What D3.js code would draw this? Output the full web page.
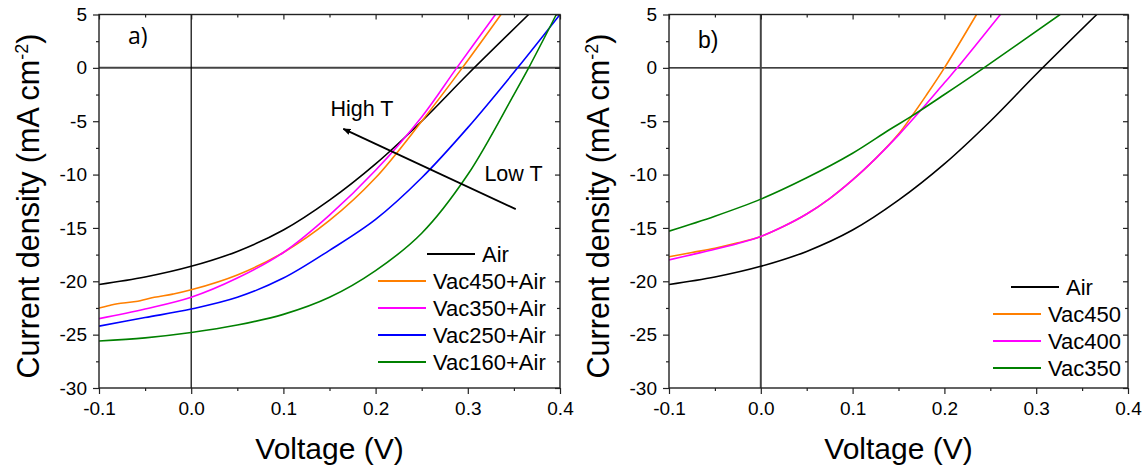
<!DOCTYPE html>
<html>
<head>
<meta charset="utf-8">
<script src="https://cdn.jsdelivr.net/npm/d3@7"></script>
<style>
  body { margin: 0; background: #fff; }
  svg { display: block; }
  text { font-family: "Liberation Sans", Arial, sans-serif; fill: #000; }
</style>
</head>
<body>
<script>
// J-V curves, [voltage (V), current density (mA cm-2)]
const airCurve = [[-0.1, -20.3], [-0.05, -19.6], [0, -18.6], [0.05, -17.2], [0.1, -15.2], [0.15, -12.4],
  [0.2, -9.0], [0.25, -5.0], [0.3, -0.6], [0.366, 5]];
const vac450AirCurve = [[-0.1, -22.5], [-0.09, -22.3], [-0.08, -22.1], [-0.06, -21.9], [-0.04, -21.5], [-0.02, -21.2],
  [0, -20.8], [0.05, -19.4], [0.1, -17.3], [0.15, -14.3], [0.2, -10.3], [0.25, -5.0], [0.294, 0], [0.336, 5]];
const vac350AirCurve = [[-0.1, -23.5], [-0.05, -22.6], [0, -21.5], [0.05, -19.7], [0.1, -17.3], [0.15, -13.8],
  [0.2, -9.6], [0.25, -4.6], [0.288, 0], [0.33, 5]];
const vac250AirCurve = [[-0.1, -24.2], [-0.05, -23.4], [0, -22.6], [0.05, -21.5], [0.1, -19.7], [0.15, -17.1],
  [0.2, -14.2], [0.25, -10.3], [0.3, -5.6], [0.354, 0], [0.4, 5]];
const vac160AirCurve = [[-0.1, -25.6], [-0.05, -25.3], [0, -24.8], [0.05, -24.1], [0.1, -23.1], [0.15, -21.5],
  [0.2, -19.0], [0.25, -15.5], [0.3, -10.0], [0.35, -2.5], [0.366, 0], [0.396, 5]];

const vac450Curve = [[-0.1, -17.7], [-0.075, -17.3], [-0.05, -16.9], [-0.025, -16.4], [0, -15.8], [0.025, -14.85],
  [0.05, -13.7], [0.075, -12.25], [0.1, -10.5], [0.125, -8.5], [0.15, -6.2], [0.163, -4.7], [0.18, -2.6],
  [0.2, 0], [0.235, 5]];
const vac400Curve = [[-0.1, -18.0], [-0.075, -17.5], [-0.05, -17.0], [-0.025, -16.45], [0, -15.8], [0.025, -14.85],
  [0.05, -13.7], [0.075, -12.25], [0.1, -10.5], [0.125, -8.5], [0.15, -6.3], [0.175, -3.9], [0.2, -1.4],
  [0.214, 0], [0.261, 5]];
const vac350Curve = [[-0.1, -15.3], [-0.05, -13.9], [0, -12.3], [0.05, -10.3], [0.1, -8.0], [0.14, -5.8],
  [0.163, -4.6], [0.2, -2.5], [0.243, 0], [0.326, 5]];

const panelANames = ["Air", "Vac450+Air", "Vac350+Air", "Vac250+Air", "Vac160+Air"];
const panelAColors = ["#000000", "#ff7f00", "#ff00ff", "#0000ff", "#008000"];
const panelBNames = ["Air", "Vac450", "Vac400", "Vac350"];
const panelBColors = ["#000000", "#ff7f00", "#ff00ff", "#008000"];

// axis ticks
const voltTicks = [-0.1, 0, 0.1, 0.2, 0.3, 0.4];
const voltMinor = [-0.05, 0.05, 0.15, 0.25, 0.35];
const currTicks = [-30, -25, -20, -15, -10, -5, 0, 5];
const currMinor = [-27.5, -22.5, -17.5, -12.5, -7.5, -2.5, 2.5];

// "High T" / "Low T" arrow in panel a (tail, head)
const arrowTail = [0.352, -13.24];
const arrowHead = [0.165, -5.72];
const highLabel = [0.151, -4.5];
const lowLabel = [0.318, -10.6];

const svg = d3.select("body").append("svg")
  .attr("width", 1146)
  .attr("height", 470);

svg.append("defs").append("marker")
  .attr("id", "head")
  .attr("viewBox", "0 0 10 10")
  .attr("refX", 9).attr("refY", 5)
  .attr("markerWidth", 8).attr("markerHeight", 8)
  .attr("markerUnits", "userSpaceOnUse")
  .attr("orient", "auto")
  .append("path")
  .attr("d", "M0,1 L10,5 L0,9 Z")
  .attr("fill", "#000");

function drawPanel(opt) {
  const x = d3.scaleLinear().domain([-0.1, 0.4]).range([opt.left, opt.right]);
  const y = d3.scaleLinear().domain([-30, 5]).range([opt.bottom, opt.top]);
  const g = svg.append("g");

  // zero lines
  g.append("line")
    .attr("x1", opt.left).attr("x2", opt.right)
    .attr("y1", y(0)).attr("y2", y(0))
    .attr("stroke", opt.hZero.color).attr("stroke-width", opt.hZero.width);
  g.append("line")
    .attr("x1", x(0)).attr("x2", x(0))
    .attr("y1", opt.top).attr("y2", opt.bottom)
    .attr("stroke", opt.vZero.color).attr("stroke-width", opt.vZero.width);

  // curves
  const clipId = "clip" + opt.tag;
  svg.select("defs").append("clipPath").attr("id", clipId)
    .append("rect")
    .attr("x", opt.left).attr("y", opt.top)
    .attr("width", opt.right - opt.left).attr("height", opt.bottom - opt.top);

  const line = d3.line()
    .x(d => x(d[0]))
    .y(d => y(d[1]))
    .curve(d3.curveCatmullRom.alpha(0.5));

  g.append("g").attr("clip-path", "url(#" + clipId + ")")
    .selectAll("path")
    .data(opt.series)
    .enter()
    .append("path")
    .attr("d", d => line(d))
    .attr("fill", "none")
    .attr("stroke", (d, i) => opt.colors[i])
    .attr("stroke-width", 1.6)
    .attr("stroke-linejoin", "round");

  // axes
  const styleAxis = sel => {
    sel.select(".domain").remove();
    sel.selectAll("line").attr("stroke", "#222").attr("stroke-width", 1.2);
    sel.selectAll("text").style("font-size", "19px").attr("fill", "#000");
  };
  const fmtV = v => v.toFixed(1);

  g.append("g").attr("transform", "translate(0," + opt.bottom + ")")
    .call(d3.axisBottom(x).tickValues(voltTicks).tickFormat(fmtV).tickSize(6).tickPadding(7))
    .call(styleAxis)
    .call(s => s.selectAll("text").attr("dy", "0.75em"));
  g.append("g").attr("transform", "translate(0," + opt.bottom + ")")
    .call(d3.axisBottom(x).tickValues(voltMinor).tickFormat("").tickSize(3))
    .call(styleAxis);
  g.append("g").attr("transform", "translate(" + opt.left + ",0)")
    .call(d3.axisLeft(y).tickValues(currTicks).tickFormat(d => String(d)).tickSize(6).tickPadding(6))
    .call(styleAxis);
  g.append("g").attr("transform", "translate(" + opt.left + ",0)")
    .call(d3.axisLeft(y).tickValues(currMinor).tickFormat("").tickSize(3))
    .call(styleAxis);
  // inward ticks on top and right
  g.append("g").attr("transform", "translate(0," + opt.top + ")")
    .call(d3.axisTop(x).tickValues(voltTicks).tickFormat("").tickSize(-5))
    .call(styleAxis);
  g.append("g").attr("transform", "translate(0," + opt.top + ")")
    .call(d3.axisTop(x).tickValues(voltMinor).tickFormat("").tickSize(-3))
    .call(styleAxis);
  g.append("g").attr("transform", "translate(" + opt.right + ",0)")
    .call(d3.axisRight(y).tickValues(currTicks).tickFormat("").tickSize(-5))
    .call(styleAxis);
  g.append("g").attr("transform", "translate(" + opt.right + ",0)")
    .call(d3.axisRight(y).tickValues(currMinor).tickFormat("").tickSize(-3))
    .call(styleAxis);

  // frame
  g.append("rect")
    .attr("x", opt.left).attr("y", opt.top)
    .attr("width", opt.right - opt.left).attr("height", opt.bottom - opt.top)
    .attr("fill", "none").attr("stroke", "#222").attr("stroke-width", 1.4);

  // axis titles
  g.append("text")
    .attr("x", (opt.left + opt.right) / 2)
    .attr("y", 459)
    .attr("text-anchor", "middle")
    .style("font-size", "30px")
    .text("Voltage (V)");

  const yt = g.append("text")
    .attr("transform", "translate(" + (opt.left - 60) + ",206)rotate(-90)")
    .attr("text-anchor", "middle")
    .style("font-size", "30.5px");
  yt.append("tspan").text("Current density (mA cm");
  yt.append("tspan").attr("dy", -11).style("font-size", "18px").text("-2");
  yt.append("tspan").attr("dy", 11).text(")");

  // panel letter
  g.append("text")
    .attr("x", opt.left + 29)
    .attr("y", opt.top + opt.letterDy)
    .style("font-size", "23px")
    .style("font-family", opt.letterFont)
    .text(opt.letter);

  // legend
  const lg = g.append("g");
  opt.names.forEach((name, i) => {
    const x0 = opt.legend.x + (i === 0 ? opt.legend.firstShift : 0);
    const cy = opt.legend.y + i * 27;
    lg.append("line")
      .attr("x1", x0).attr("x2", x0 + 48)
      .attr("y1", cy).attr("y2", cy)
      .attr("stroke", opt.colors[i]).attr("stroke-width", 1.8);
    lg.append("text")
      .attr("x", x0 + 55)
      .attr("y", cy + 8)
      .style("font-size", "22px")
      .text(name);
  });

  return { x: x, y: y, g: g };
}

const panelA = drawPanel({
  tag: "a", letter: "a)", letterFont: "'Open Sans', sans-serif", letterDy: 29,
  left: 99, right: 560, top: 14.5, bottom: 388,
  series: [airCurve, vac450AirCurve, vac350AirCurve, vac250AirCurve, vac160AirCurve],
  names: panelANames, colors: panelAColors,
  hZero: { color: "#444", width: 2 }, vZero: { color: "#000", width: 1.2 },
  legend: { x: 378, y: 254, firstShift: 49 }
});

drawPanel({
  tag: "b", letter: "b)", letterFont: "'Liberation Sans', sans-serif", letterDy: 33,
  left: 669, right: 1128, top: 14.5, bottom: 388,
  series: [airCurve, vac450Curve, vac400Curve, vac350Curve],
  names: panelBNames, colors: panelBColors,
  hZero: { color: "#000", width: 1.2 }, vZero: { color: "#444", width: 2 },
  legend: { x: 993, y: 287, firstShift: 18 }
});

// High T / Low T annotation
panelA.g.append("line")
  .attr("x1", panelA.x(arrowTail[0])).attr("y1", panelA.y(arrowTail[1]))
  .attr("x2", panelA.x(arrowHead[0])).attr("y2", panelA.y(arrowHead[1]))
  .attr("stroke", "#000").attr("stroke-width", 1.8)
  .attr("marker-end", "url(#head)");
panelA.g.append("text")
  .attr("x", panelA.x(highLabel[0])).attr("y", panelA.y(highLabel[1]))
  .style("font-size", "21.5px")
  .text("High T");
panelA.g.append("text")
  .attr("x", panelA.x(lowLabel[0])).attr("y", panelA.y(lowLabel[1]))
  .style("font-size", "21.5px")
  .text("Low T");
</script>
</body>
</html>
